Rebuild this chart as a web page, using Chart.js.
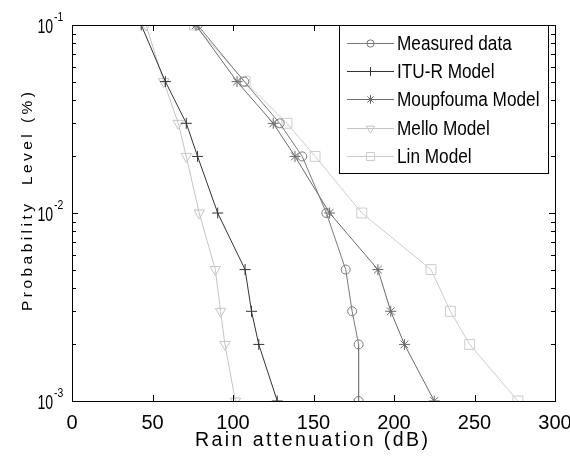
<!DOCTYPE html>
<html>
<head>
<meta charset="utf-8">
<title>Rain attenuation</title>
<script src="https://cdn.jsdelivr.net/npm/chart.js@4/dist/chart.umd.min.js"></script>
<style>
  html, body { margin: 0; padding: 0; background: #fff; }
  #wrap { width: 570px; height: 457px; }
</style>
</head>
<body>
<div id="wrap"><canvas id="rainChart"></canvas></div>
<script>
'use strict';

// data
const probLevels = [0.1, 0.05, 0.03, 0.02, 0.01, 0.005, 0.003, 0.002, 0.001];
const measured = [78, 107, 129, 143, 158, 170, 174, 178, 178];
const ituR = [43, 58, 71, 78, 90.5, 107.5, 111.5, 116, 127.5];
const moupfouma = [77, 102.5, 125, 138.5, 160, 190, 198, 206.5, 225];
const mello = [46, 57, 66, 71, 79, 89, 92.3, 95, 101.5];
const lin = [76, 107.5, 133.5, 151, 180, 223, 235, 247, 277];
const xTicks = [0, 50, 100, 150, 200, 250, 300];
const yDecades = [0.1, 0.01, 0.001];
const yExponents = ['-1', '-2', '-3'];

const sans = '"Liberation Sans", Arial, sans-serif';

function series(label, values, color, style, radius, rotation) {
  return {
    label: label,
    data: values.map(function (v, i) { return { x: v, y: probLevels[i] }; }),
    borderColor: color,
    backgroundColor: 'rgba(0,0,0,0)',
    borderWidth: 1,
    pointStyle: style,
    pointRadius: radius,
    pointRotation: rotation || 0,
    pointBorderColor: color,
    pointBackgroundColor: 'rgba(0,0,0,0)',
    pointBorderWidth: 1,
    tension: 0
  };
}

const datasets = [
  series('Measured data', measured, '#7a7a7a', 'circle', 4.5),
  series('ITU-R Model', ituR, '#333333', 'cross', 5.5),
  series('Moupfouma Model', moupfouma, '#6a6a6a', 'star', 5.5),
  series('Mello Model', mello, '#c4c4c4', 'triangle', 6, 180),
  series('Lin Model', lin, '#cccccc', 'rect', 7)
];

function marker(ctx, ds, x, y) {
  ctx.save();
  ctx.strokeStyle = ds.pointBorderColor;
  ctx.fillStyle = 'rgba(0,0,0,0)';
  ctx.lineWidth = 1;
  if (Chart.helpers && Chart.helpers.drawPoint) {
    Chart.helpers.drawPoint(ctx, {
      pointStyle: ds.pointStyle,
      rotation: ds.pointRotation,
      radius: ds.pointRadius * 0.8,
      borderWidth: 1
    }, x, y);
  } else {
    ctx.beginPath();
    ctx.arc(x, y, 3, 0, Math.PI * 2);
    ctx.stroke();
  }
  ctx.restore();
}

// text squeezed sideways, the original figure has tall narrow glyphs
function squeezed(ctx, text, x, y, sx) {
  ctx.save();
  ctx.translate(x, y);
  ctx.scale(sx, 1);
  ctx.fillText(text, 0, 0);
  ctx.restore();
}

// letter spaced text centred on cx, stretched to the given width
function spaced(ctx, text, cx, cy, width) {
  ctx.letterSpacing = '0px';
  const w = ctx.measureText(text).width;
  const gap = (width - w) / (text.length - 1);
  ctx.letterSpacing = gap + 'px';
  ctx.textAlign = 'left';
  ctx.fillText(text, cx - width / 2, cy);
  ctx.letterSpacing = '0px';
}

// frame, inward ticks, y labels, axis titles and legend box
const matlabAxes = {
  id: 'matlabAxes',
  afterDraw: function (chart) {
    const ctx = chart.ctx;
    const a = chart.chartArea;
    const xs = chart.scales.x;
    const ys = chart.scales.y;
    ctx.save();
    ctx.strokeStyle = '#000';
    ctx.lineWidth = 1;
    ctx.strokeRect(Math.round(a.left) + 0.5, Math.round(a.top) + 0.5,
      Math.round(a.right - a.left), Math.round(a.bottom - a.top));

    ctx.beginPath();
    xTicks.forEach(function (t) {
      const px = Math.round(xs.getPixelForValue(t)) + 0.5;
      ctx.moveTo(px, a.bottom); ctx.lineTo(px, a.bottom - 6);
      ctx.moveTo(px, a.top); ctx.lineTo(px, a.top + 6);
    });
    [0.001, 0.01].forEach(function (dec) {
      for (let m = 1; m <= 10; m++) {
        const py = Math.round(ys.getPixelForValue(dec * m)) + 0.5;
        const len = (m === 1 || m === 10) ? 6 : 4;
        ctx.moveTo(a.left, py); ctx.lineTo(a.left + len, py);
        ctx.moveTo(a.right, py); ctx.lineTo(a.right - len, py);
      }
    });
    ctx.stroke();

    // y tick labels as 10 with a raised exponent
    ctx.fillStyle = '#000';
    ctx.textBaseline = 'alphabetic';
    ctx.textAlign = 'left';
    yDecades.forEach(function (v, i) {
      const py = ys.getPixelForValue(v);
      ctx.font = '21px ' + sans;
      squeezed(ctx, '10', 37.5, py + 7.5, 0.67);
      ctx.font = '13px ' + sans;
      squeezed(ctx, yExponents[i], 54, py - 4.5, 0.8);
    });

    // axis titles, spaced out like the original
    ctx.font = '19.5px ' + sans;
    ctx.textBaseline = 'middle';
    spaced(ctx, 'Rain attenuation (dB)', 311.5, 441, 233);

    ctx.save();
    ctx.translate(28, 201.5);
    ctx.rotate(-Math.PI / 2);
    ctx.font = '15.5px ' + sans;
    spaced(ctx, 'Probability  Level (%)', 0, 0, 219);
    ctx.restore();

    // legend box in the upper right
    const box = { left: 339, top: Math.round(a.top), right: 548, bottom: 173 };
    ctx.fillStyle = '#fff';
    ctx.fillRect(box.left, box.top, box.right - box.left, box.bottom - box.top);
    ctx.strokeStyle = '#000';
    ctx.strokeRect(box.left + 0.5, box.top + 0.5, box.right - box.left, box.bottom - box.top);
    ctx.font = '20px ' + sans;
    ctx.textAlign = 'left';
    ctx.textBaseline = 'middle';
    chart.data.datasets.forEach(function (ds, i) {
      const ly = Math.round(43 + i * 28.2) + 0.5;
      ctx.strokeStyle = ds.borderColor;
      ctx.beginPath();
      ctx.moveTo(347, ly); ctx.lineTo(394, ly);
      ctx.stroke();
      marker(ctx, ds, 370.5, ly);
      ctx.fillStyle = '#000';
      squeezed(ctx, ds.label, 397, ly + 1, 0.86);
    });
    ctx.restore();
  }
};

const config = {
  type: 'line',
  data: { datasets: datasets },
  options: {
    responsive: true,
    maintainAspectRatio: false,
    animation: false,
    layout: { padding: { left: 72, right: 15, top: 25, bottom: 12 } },
    plugins: {
      legend: { display: false },
      tooltip: { enabled: false }
    },
    scales: {
      x: {
        type: 'linear',
        min: 0,
        max: 300,
        grid: { display: false, drawTicks: false },
        border: { display: false },
        ticks: {
          stepSize: 50,
          padding: 10,
          color: '#000',
          font: { family: sans, size: 20 }
        },
        // keep the plot edges where the original has them
        afterFit: function (scale) {
          scale.paddingLeft = 0;
          scale.paddingRight = 0;
        }
      },
      y: {
        type: 'logarithmic',
        min: 0.001,
        max: 0.1,
        display: false
      }
    }
  },
  plugins: [matlabAxes]
};

var rainChart = new Chart(document.getElementById('rainChart'), config);
</script>
</body>
</html>
